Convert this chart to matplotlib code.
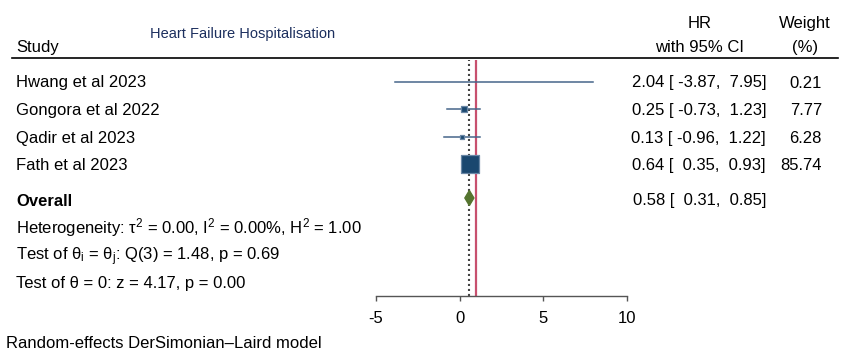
import matplotlib
matplotlib.use("Agg")
import matplotlib.pyplot as plt

plt.rcParams['font.family'] = ['Liberation Sans', 'DejaVu Sans']
plt.rcParams['mathtext.fontset'] = 'custom'
plt.rcParams['mathtext.rm'] = 'Liberation Sans'
plt.rcParams['mathtext.it'] = 'Liberation Sans'
plt.rcParams['mathtext.bf'] = 'Liberation Sans:bold'

# ---- data ----
studies = ["Hwang et al 2023", "Gongora et al 2022", "Qadir et al 2023", "Fath et al 2023"]
hr = [2.04, 0.25, 0.13, 0.64]
lo = [-3.87, -0.73, -0.96, 0.35]
hi = [7.95, 1.23, 1.22, 0.93]
weight = [0.21, 7.77, 6.28, 85.74]
overall = (0.58, 0.31, 0.85)
no_effect = 1
xticks = [-5, 0, 5, 10]
het_text = r"Heterogeneity: τ$^{2}$ = 0.00, I$^{2}$ = 0.00%, H$^{2}$ = 1.00"
test1_text = r"Test of θ$_\mathrm{i}$ = θ$_\mathrm{j}$: Q(3) = 1.48, p = 0.69"
test2_text = "Test of θ = 0: z = 4.17, p = 0.00"
title = "Heart Failure Hospitalisation"
footer = "Random-effects DerSimonian–Laird model"

# ---- layout (pixel rows) ----
W, H = 851, 355
row_y = [81.5, 109.3, 136.7, 164.3]
overall_y = 198
text_rows = [227, 254, 282]
FS = 12
BL = 6.0  # baseline offset from row centre (px)

fig = plt.figure(figsize=(W / 100, H / 100), dpi=100)
bg = fig.add_axes([0, 0, 1, 1])
bg.set_xlim(0, W)
bg.set_ylim(H, 0)
bg.axis('off')

ax_left, ax_right, ax_top, ax_bot = 376, 627, 60, 296
ax = fig.add_axes([ax_left / W, (H - ax_bot) / H, (ax_right - ax_left) / W, (ax_bot - ax_top) / H])
ax.set_xlim(xticks[0], xticks[-1])
ax.set_ylim(ax_bot, ax_top)
ax.patch.set_alpha(0)
for s in ['top', 'left', 'right']:
    ax.spines[s].set_visible(False)
ax.spines['bottom'].set_color('#555555')
ax.spines['bottom'].set_linewidth(1.0)
ax.set_yticks([])
ax.set_xticks(xticks)
ax.set_xticklabels([str(t) for t in xticks])
ax.tick_params(axis='x', direction='out', length=3.8, width=1.0, color='#555555',
               labelsize=FS, pad=7)

# reference lines
ax.axvline(no_effect, color='#c8506e', lw=1.6, zorder=1)
ax.axvline(overall[0], color='#444444', lw=1.5, ls=(0, (1, 1.4)), zorder=1)

# CIs and squares
for y, h, l, u, w in zip(row_y, hr, lo, hi, weight):
    ax.plot([l, u], [y, y], color='#46668a', lw=1.1, zorder=2, clip_on=False)
    ax.scatter([h], [y], s=w * 2.0, marker='s', color='#1a476f',
               edgecolors='#6a87a6', linewidths=0.9, zorder=3, clip_on=False)

# overall diamond
oh, ol, ou = overall
dh = 7.5
ax.fill([ol, oh, ou, oh], [overall_y, overall_y - dh, overall_y, overall_y + dh],
        color='#55752f', zorder=3, clip_on=False)

# header
bg.text(16, 46 + BL, "Study", fontsize=FS, ha='left', va='baseline')
bg.text(243, 34, title, fontsize=10.5, ha='center', va='center', color='#1c2f5e')
bg.text(700, 22 + BL, "HR", fontsize=FS, ha='center', va='baseline')
bg.text(700, 46 + BL, "with 95% CI", fontsize=FS, ha='center', va='baseline')
bg.text(805, 22 + BL, "Weight", fontsize=FS, ha='center', va='baseline')
bg.text(805, 46 + BL, "(%)", fontsize=FS, ha='center', va='baseline')
bg.plot([12, 838], [58, 58], color='black', lw=1.2)

hr_right = 766
w_right = 822
for y, name, h, l, u, w in zip(row_y, studies, hr, lo, hi, weight):
    bg.text(16, y + BL, name, fontsize=FS, ha='left', va='baseline')
    bg.text(hr_right, y + BL, f"{h:.2f} [{l:6.2f}, {u:5.2f}]", fontsize=FS,
            ha='right', va='baseline')
    bg.text(w_right, y + BL, f"{w:.2f}", fontsize=FS, ha='right', va='baseline')

bg.text(16, overall_y + 1.5 + BL, "Overall", fontsize=FS, ha='left', va='baseline',
        fontweight='bold')
bg.text(hr_right, overall_y + 1.5 + BL, f"{oh:.2f} [{ol:6.2f}, {ou:5.2f}]", fontsize=FS,
        ha='right', va='baseline')
for y, t in zip(text_rows, [het_text, test1_text, test2_text]):
    bg.text(16, y + BL, t, fontsize=FS, ha='left', va='baseline')

bg.text(6, 342 + BL, footer, fontsize=FS, ha='left', va='baseline')

fig.savefig("out.png", dpi=100)
